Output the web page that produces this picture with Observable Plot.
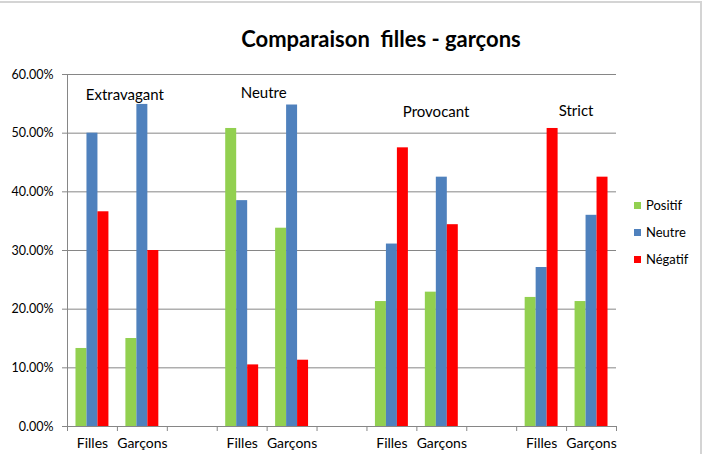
<!DOCTYPE html>
<html>
<head>
<meta charset="utf-8">
<script src="https://cdn.jsdelivr.net/npm/d3@7"></script>
<script src="https://cdn.jsdelivr.net/npm/@observablehq/plot@0.6"></script>
<style>
  body { margin: 0; background: #fff; }
  #chart { position: relative; width: 708px; height: 454px; overflow: hidden; font-family: Lato, "Open Sans", sans-serif; color: #000; }
  #border { position: absolute; left: -4px; top: 1px; width: 706px; height: 470px; border: 2px solid #d4d4d4; box-sizing: border-box; pointer-events: none; }
  #title { height: 60px; box-sizing: border-box; padding: 27px 0 0 54px; text-align: center; font-weight: 700; font-size: 22px; line-height: 24px; white-space: pre; }
  #legend { position: absolute; left: 634px; top: 192px; font-size: 13px; line-height: 27px; }
  #legend div { display: flex; align-items: center; }
  #legend span.sw { display: inline-block; width: 7px; height: 7px; margin-right: 5px; }
  svg { display: block; }
</style>
</head>
<body>
<div id="chart">
  <div id="title"></div>
  <div id="plot"></div>
  <div id="legend"></div>
  <div id="border"></div>
</div>
<script>
// Styles vestimentaires, réponses des filles et des garçons (en %)
const groups = ["Extravagant", "Neutre", "Provocant", "Strict"];
const genders = ["Filles", "Garçons"];
const series = ["Positif", "Neutre", "Négatif"];
// one value per group × gender, in the order Extravagant F, G, Neutre F, G, ...
const positif = [13.3, 15.0, 50.8, 33.8, 21.3, 22.9, 22.0, 21.3];
const neutre  = [50.0, 54.9, 38.5, 54.8, 31.1, 42.5, 27.1, 36.0];
const negatif = [36.6, 30.0, 10.5, 11.3, 47.5, 34.4, 50.8, 42.5];
const yTicks = [0, 10, 20, 30, 40, 50, 60];
const titleText = "Comparaison  filles - garçons";

const colors = ["#92d050", "#4f81bd", "#ff0000"];
const valuesBySeries = [positif, neutre, negatif];

// category slots: Filles, Garçons and an empty slot between groups
const keys = groups.flatMap((g, gi) => [
  ...genders.map(s => `${g}|${s}`),
  ...(gi < groups.length - 1 ? [`${g}|`] : [])
]);
const rows = groups.flatMap((g, gi) => genders.map((s, si) => {
  const r = {key: `${g}|${s}`};
  series.forEach((name, k) => { r[name] = valuesBySeries[k][gi * 2 + si]; });
  return r;
}));

const W = 708, H = 394, mL = 67, mR = 92, mT = 14, mB = 28;
const step = (W - mL - mR) / keys.length;
const barW = step * 0.22;
const grey = "#868686";

// group names placed over their bars: horizontal shift (in slots) and height (in %)
const labelShift = [0.65, 0.43, 0.885, 0.69];
const labelY = [56.4, 56.85, 53.6, 53.8];

document.getElementById("title").textContent = titleText;

const chart = Plot.plot({
  width: W, height: H,
  marginLeft: mL, marginRight: mR, marginTop: mT, marginBottom: mB,
  style: {fontFamily: "Lato, 'Open Sans', sans-serif", fontSize: "13px", color: "#000", background: "#fff"},
  x: {type: "band", domain: keys, padding: 0, round: false, label: null},
  y: {domain: [0, 60], label: null},
  marks: [
    Plot.gridY(yTicks, {stroke: grey, strokeOpacity: 1}),
    Plot.ruleX([keys[0]], {dx: -step / 2, stroke: grey}),
    Plot.ruleX(keys, {y1: 0, y2: 0, insetBottom: -5, dx: -step / 2, stroke: grey}),
    Plot.ruleX([keys[keys.length - 1]], {y1: 0, y2: 0, insetBottom: -5, dx: step / 2, stroke: grey}),
    Plot.axisY(yTicks, {tickSize: 5, tickPadding: 9, stroke: grey, fill: "#000", fontSize: 12.5,
      tickFormat: d => d.toFixed(2) + "%"}),
    Plot.axisX({tickSize: 0, tickPadding: 12, fill: "#000", fontSize: 14,
      tickFormat: k => k.split("|")[1]}),
    ...series.map((name, i) => Plot.barY(rows, {
      x: "key", y: name, fill: colors[i],
      dx: (i - 1) * barW,
      insetLeft: (step - barW) / 2, insetRight: (step - barW) / 2
    })),
    Plot.ruleY([0], {stroke: grey}),
    ...groups.map((g, i) => Plot.text([g], {
      x: () => `${g}|Filles`, y: () => labelY[i], text: d => d,
      dx: labelShift[i] * step, fill: "#000", fontSize: 15
    }))
  ]
});
document.getElementById("plot").append(chart);

const legend = document.getElementById("legend");
series.forEach((name, i) => {
  const item = document.createElement("div");
  const sw = document.createElement("span");
  sw.className = "sw";
  sw.style.background = colors[i];
  item.append(sw, document.createTextNode(name));
  legend.append(item);
});
</script>
</body>
</html>
